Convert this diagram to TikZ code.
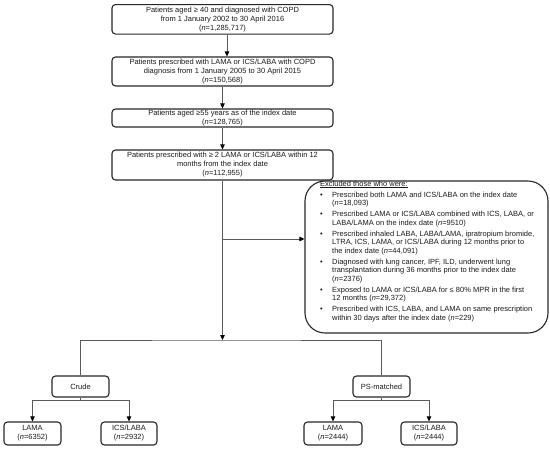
\documentclass[tikz,border=0pt]{standalone}
\usepackage{fontspec}
\setmainfont{Liberation Sans}
\usetikzlibrary{arrows.meta}
\tikzset{
  box/.style={draw=black!85, line width=1.1pt, rounded corners=3.5pt, align=center, inner sep=0pt,
    font=\fontsize{7.5}{9}\selectfont, text=black!90},
  bigbox/.style={box, minimum width=221pt},
  smallbox/.style={box, minimum width=57pt, minimum height=22pt},
  exclbox/.style={draw=black!85, line width=1.1pt, rounded corners=20pt, minimum width=243pt, minimum height=152pt, inner sep=0pt},
  line/.style={draw=black!65, line width=0.8pt},
  conn/.style={line, -{Triangle[length=5pt,width=4.5pt,fill=black,color=black]}},
}
\begin{document}
\begin{tikzpicture}[x=1pt,y=-1pt]
\useasboundingbox (0,0) rectangle (550,451);
\node[bigbox, minimum height=29.5pt] (b1) at (222.5,19.3) {Patients aged ≥ 40 and diagnosed with COPD\\from 1 January 2002 to 30 April 2016\\(\textit{n}=1,285,717)};
\node[bigbox, minimum height=29pt] (b2) at (222.5,71.5) {Patients prescribed with LAMA or ICS/LABA with COPD\\diagnosis from 1 January 2005 to 30 April 2015\\(\textit{n}=150,568)};
\node[bigbox, minimum height=18pt] (b3) at (222.5,118) {Patients aged ≥55 years as of the index date\\(\textit{n}=128,765)};
\node[bigbox, minimum height=30pt] (b4) at (222.5,165) {Patients prescribed with ≥ 2 LAMA or ICS/LABA within 12\\months from the index date\\(\textit{n}=112,955)};
\node[exclbox] (excl) at (426.5,257) {};
\node[anchor=north west, inner sep=0pt, align=left, font=\fontsize{7.5}{8.5}\selectfont, text=black!90] (excltext) at (320,180) {%
\begin{tabular}{@{}p{12pt}@{}l@{}}
\multicolumn{2}{@{}l@{}}{\underline{Excluded those who were:}}\\[2.5pt]
•& Prescribed both LAMA and ICS/LABA on the index date\\
& (\textit{n}=18,093)\\[2.5pt]
•& Prescribed LAMA or ICS/LABA combined with ICS, LABA, or\\
& LABA/LAMA on the index date (\textit{n}=9510)\\[2.5pt]
•& Prescribed inhaled LABA, LABA/LAMA, ipratropium bromide,\\
& LTRA, ICS, LAMA, or ICS/LABA during 12 months prior to\\
& the index date (\textit{n}=44,091)\\[2.5pt]
•& Diagnosed with lung cancer, IPF, ILD, underwent lung\\
& transplantation during 36 months prior to the index date\\
& (\textit{n}=2376)\\[2.5pt]
•& Exposed to LAMA or ICS/LABA for ≤ 80\% MPR in the first\\
& 12 months (\textit{n}=29,372)\\[2.5pt]
•& Prescribed with ICS, LABA, and LAMA on same prescription\\
& within 30 days after the index date (\textit{n}=229)
\end{tabular}};
\node[smallbox, minimum height=21pt] (crude) at (80.5,386.5) {Crude};
\node[smallbox, minimum height=21pt] (ps) at (381.5,386.5) {PS-matched};
\node[smallbox, minimum height=23pt] (lama1) at (32.5,433.5) {LAMA\\(\textit{n}=6352)};
\node[smallbox, minimum height=23pt, minimum width=56pt] (ics1) at (129,433.5) {ICS/LABA\\(\textit{n}=2932)};
\node[smallbox, minimum height=23pt, minimum width=58pt] (lama2) at (333,433.5) {LAMA\\(\textit{n}=2444)};
\node[smallbox, minimum height=23pt, minimum width=56pt] (ics2) at (429,433.5) {ICS/LABA\\(\textit{n}=2444)};
\coordinate (a1) at (227,0);
\coordinate (split) at (222.5,340);
\coordinate (ex) at (222.5,239);
\draw[conn] (b1.south -| a1) -- (b2.north -| a1);
\draw[conn] (b2) -- (b3);
\draw[conn] (b3) -- (b4);
\draw[conn] (b4) -- (split);
\draw[conn] (ex) -- (ex -| excl.west);
\draw[line] (crude.north) |- (split) -| (ps.north);
\draw[line] (crude.south) -- ++(0,3) coordinate (c1);
\draw[conn] (c1) -| (lama1.north);
\draw[conn] (c1) -| (ics1.north);
\draw[line] (ps.south) -- ++(0,3) coordinate (c2);
\draw[conn] (c2) -| (lama2.north);
\draw[conn] (c2) -| (ics2.north);
\end{tikzpicture}
\end{document}
